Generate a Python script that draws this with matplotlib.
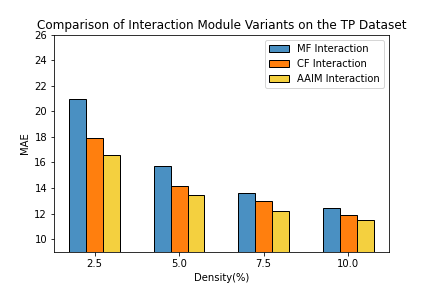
import numpy as np
import matplotlib
matplotlib.use('Agg')
import matplotlib.pyplot as plt

densities = ['2.5', '5.0', '7.5', '10.0']
mf_mae = [20.97, 15.72, 13.60, 12.42]
cf_mae = [17.91, 14.15, 12.97, 11.88]
aaim_mae = [16.58, 13.44, 12.19, 11.48]

x = np.arange(len(densities))
width = 0.2

fig, ax = plt.subplots(figsize=(6, 4), dpi=72)
fig.subplots_adjust(left=0.125, right=0.9, top=0.88, bottom=0.125)

ax.bar(x - width, mf_mae, width, color='#4a90c2', edgecolor='black', label='MF Interaction')
ax.bar(x, cf_mae, width, color='#ff7f0e', edgecolor='black', label='CF Interaction')
ax.bar(x + width, aaim_mae, width, color='#f4d03f', edgecolor='black', label='AAIM Interaction')

ax.set_xticks(x)
ax.set_xticklabels(densities)
ax.set_ylim(9, 26)
ax.set_yticks(np.arange(10, 27, 2))
ax.set_xlabel('Density(%)')
ax.set_ylabel('MAE')
ax.set_title('Comparison of Interaction Module Variants on the TP Dataset')
ax.legend(loc='upper right')

fig.savefig('out.png')
